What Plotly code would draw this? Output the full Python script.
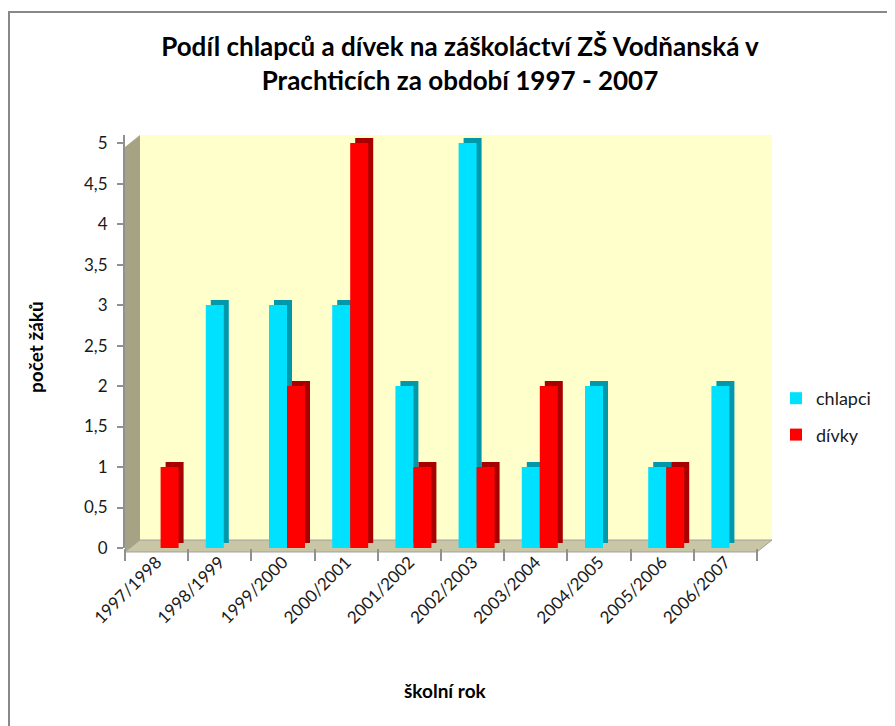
import plotly.graph_objects as go

# =========================
# DATA
# =========================

roky = [
    "1997/1998", "1998/1999", "1999/2000", "2000/2001", "2001/2002",
    "2002/2003", "2003/2004", "2004/2005", "2005/2006", "2006/2007",
]
chlapci = [0, 3, 3, 3, 2, 5, 1, 2, 1, 2]
divky = [1, 0, 2, 5, 1, 1, 2, 0, 1, 0]

y_ticks = [0, 0.5, 1, 1.5, 2, 2.5, 3, 3.5, 4, 4.5, 5]

# =========================
# GEOMETRY (pixels of the 895x726 page; the page body has an 8px margin)
# =========================

PAGE_OFF = 8
W, H = 895 - PAGE_OFF, 726 - PAGE_OFF
FONT = "Lato"


def px(x):
    return (x - PAGE_OFF) / W


def py(y):
    return 1 - (y - PAGE_OFF) / H


# front (bars) frame and back wall frame
FRONT_L, FRONT_R = 125, 757
BACK_L, BACK_R = 140, 772
TOP, BASE = 135, 548
DEPTH_Y = 8

PX_PER_UNIT = (BASE - TOP) / 5.1
SLOT = (FRONT_R - FRONT_L) / len(roky)

BAR_W = 18 / SLOT
OFF_CH = -14 / SLOT
OFF_DI = OFF_CH + BAR_W
SIDE_X = 5 / SLOT
SIDE_Y = 5 / PX_PER_UNIT

COLORS = {
    "chlapci": "#00E1FF",
    "chlapci_side": "#0098AA",
    "divky": "#FF0000",
    "divky_side": "#A80000",
}

fig = go.Figure()

# =========================
# BARS (with a darker shifted copy for the 3D side)
# =========================

for name, vals, off, face, side in [
    ("chlapci", chlapci, OFF_CH, COLORS["chlapci"], COLORS["chlapci_side"]),
    ("dívky", divky, OFF_DI, COLORS["divky"], COLORS["divky_side"]),
]:
    fig.add_trace(
        go.Bar(
            x=roky,
            y=vals,
            base=SIDE_Y,
            offset=off + SIDE_X,
            width=BAR_W,
            marker=dict(color=side, line=dict(width=0)),
            xaxis="x2",
            yaxis="y2",
            showlegend=False,
            hoverinfo="skip",
        )
    )
    fig.add_trace(
        go.Bar(
            x=roky,
            y=vals,
            offset=off,
            width=BAR_W,
            name=name,
            legendgroup=name,
            marker=dict(color=face, line=dict(width=0)),
            xaxis="x2",
            yaxis="y2",
        )
    )

# =========================
# WALLS, FLOOR, FRAME
# =========================

def poly(points):
    return "M " + " L ".join(f"{px(x):.5f},{py(y):.5f}" for x, y in points) + " Z"


shapes = [
    # back wall
    dict(type="rect", xref="paper", yref="paper",
         x0=px(BACK_L), x1=px(BACK_R), y0=py(BASE - DEPTH_Y), y1=py(TOP),
         fillcolor="#FFFFCC", line=dict(width=0), layer="below"),
    # left wall
    dict(type="path", xref="paper", yref="paper",
         path=poly([(FRONT_L, BASE + 4), (BACK_L, BASE - DEPTH_Y),
                    (BACK_L, TOP), (FRONT_L, TOP + 12)]),
         fillcolor="#A6A384", line=dict(width=0), layer="below"),
    # floor
    dict(type="path", xref="paper", yref="paper",
         path=poly([(FRONT_L, BASE + 4), (BACK_L, BASE - DEPTH_Y),
                    (BACK_R, BASE - DEPTH_Y), (FRONT_R, BASE + 4)]),
         fillcolor="#C9C6A6", line=dict(color="#A0A0A0", width=1), layer="below"),
    # outer frame
    dict(type="rect", xref="paper", yref="paper",
         x0=px(9), x1=1.2, y0=py(12), y1=-0.2,
         fillcolor="rgba(0,0,0,0)", line=dict(color="#888888", width=2),
         layer="below"),
]

fig.update_layout(
    width=W,
    height=H,
    margin=dict(l=0, r=0, t=0, b=0, autoexpand=False),
    paper_bgcolor="white",
    plot_bgcolor="rgba(0,0,0,0)",
    separators=", ",
    barmode="overlay",
    font=dict(family=FONT, size=17, color="#1A1A1A"),
    shapes=shapes,
    title=dict(
        text="<b>Podíl chlapců a dívek na záškoláctví ZŠ Vodňanská v<br>"
             "Prachticích za období 1997 - 2007</b>",
        x=px(460),
        xanchor="center",
        y=py(56),
        yanchor="top",
        font=dict(family=FONT, size=26, color="#000000"),
    ),
    # back wall grid
    xaxis=dict(
        domain=[px(BACK_L), px(BACK_R)],
        range=[0, 1],
        showgrid=False,
        showticklabels=False,
        zeroline=False,
        fixedrange=True,
    ),
    yaxis=dict(
        domain=[py(BASE), py(TOP)],
        range=[-DEPTH_Y / PX_PER_UNIT, 5.1 - DEPTH_Y / PX_PER_UNIT],
        tickvals=y_ticks,
        showticklabels=False,
        showgrid=True,
        gridcolor="#989898",
        gridwidth=2,
        zeroline=False,
    ),
    # front frame with bars
    xaxis2=dict(
        domain=[px(FRONT_L), px(FRONT_R)],
        anchor="y2",
        type="category",
        tickson="boundaries",
        ticks="outside",
        ticklen=12,
        tickcolor="#909090",
        tickwidth=2,
        tickangle=-45,
        showgrid=False,
        showline=False,
        tickfont=dict(family=FONT, size=17, color="#1A1A1A"),
    ),
    yaxis2=dict(
        domain=[py(BASE), py(TOP)],
        anchor="x2",
        range=[0, 5.1],
        tickvals=y_ticks,
        ticks="outside",
        ticklen=6,
        tickcolor="#909090",
        tickwidth=2,
        showline=True,
        linecolor="#909090",
        linewidth=2,
        showgrid=False,
        zeroline=False,
        ticklabelstandoff=6,
        tickfont=dict(family=FONT, size=17, color="#1A1A1A"),
    ),
    legend=dict(
        x=px(776),
        y=py(380),
        xanchor="left",
        yanchor="top",
        traceorder="grouped",
        tracegroupgap=10,
        font=dict(family=FONT, size=18, color="#1A1A1A"),
        bgcolor="rgba(0,0,0,0)",
    ),
    annotations=[
        dict(text="<b>počet žáků</b>", xref="paper", yref="paper",
             x=px(35), y=py(347), xanchor="center", yanchor="middle",
             showarrow=False, textangle=-90,
             font=dict(family=FONT, size=19, color="#000000")),
        dict(text="<b>školní rok</b>", xref="paper", yref="paper",
             x=px(445), y=py(690), xanchor="center", yanchor="middle",
             showarrow=False,
             font=dict(family=FONT, size=19, color="#000000")),
    ],
)

fig.write_html("out.html")
